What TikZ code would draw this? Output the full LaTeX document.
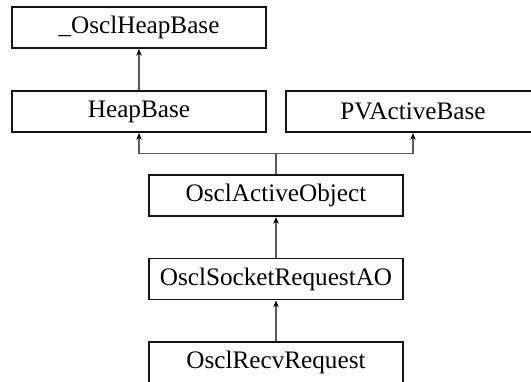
\documentclass[tikz,border=0pt]{standalone}
\usepackage{fontspec}
\setmainfont{Liberation Serif}
\usetikzlibrary{arrows.meta,calc,positioning}
\definecolor{classframe}{RGB}{20,20,20}
\definecolor{inheritgray}{RGB}{90,90,90}

\begin{document}
\begin{tikzpicture}[x=1pt,y=-1pt,>={Stealth[length=7pt,width=5.5pt,color=black]},line join=miter,
 cls/.style={draw=classframe,line width=1.7pt,minimum width=254pt,minimum height=41pt,
  inner sep=0pt,font=\fontsize{25.2}{30}\selectfont},
 inh/.style={->,draw=inheritgray,line width=1.1pt}]
% Hierarchia dziedziczenia klasy OsclRecvRequest
\clip (0,0) rectangle (531,381);
\useasboundingbox (0,0) rectangle (531,381);
\node[cls] (oheap) at (139,27.5) {\_OsclHeapBase};
\node[cls] (heap) at (139,111.5) {HeapBase};
\node[cls] (pvab) at (413,111.5) {PVActiveBase};
\node[cls] (aobj) at (276,195.5) {OsclActiveObject};
\node[cls] (sock) at (276,279) {OsclSocketRequestAO};
\node[cls] (recv) at (276,362.5) {OsclRecvRequest};
\coordinate (split) at (276,153.5);
\draw[inh] (heap) -- (oheap);
\draw[inheritgray,line width=1.1pt] (aobj.north) -- (split);
\draw[inh] (split) -| (heap.south);
\draw[inh] (split) -| (pvab.south);
\draw[inh] (sock) -- (aobj);
\draw[inh] (recv) -- (sock);
\end{tikzpicture}
\end{document}
